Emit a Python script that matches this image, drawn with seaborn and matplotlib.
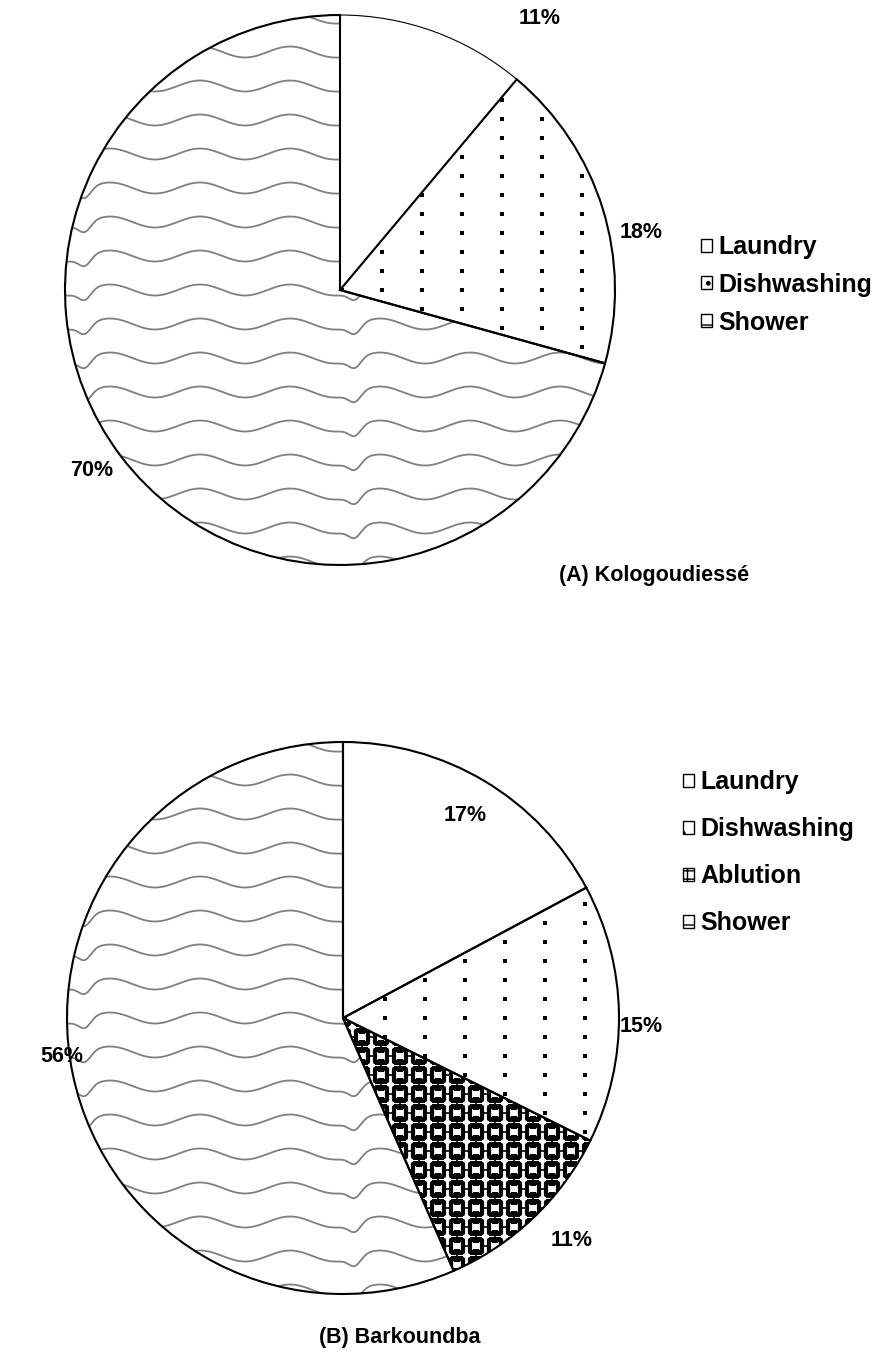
import numpy as np
import matplotlib
matplotlib.use("Agg")
import matplotlib.pyplot as plt
import seaborn as sns
from matplotlib.patches import Patch

# ---------------- data ----------------
cats_a = ["Laundry", "Dishwashing", "Shower"]
vals_a = [11, 18, 70]
labels_a = ["11%", "18%", "70%"]
cats_b = ["Laundry", "Dishwashing", "Ablution", "Shower"]
vals_b = [17, 15, 11, 56]
labels_b = ["17%", "15%", "11%", "56%"]
title_a = "(A) Kologoudiessé"
title_b = "(B) Barkoundba"

sns.set_theme(style="white")
plt.rcParams['font.family'] = ['Liberation Sans', 'DejaVu Sans']
plt.rcParams['text.color'] = 'black'

W, H = 877, 1355
fig = plt.figure(figsize=(W / 100, H / 100), dpi=100)
PAD = 1.03

kinds = {"Laundry": "plain", "Dishwashing": "dots", "Ablution": "grid", "Shower": "wave"}


def make_axes(cx, cy, r):
    h = r * PAD
    ax = fig.add_axes([(cx - h) / W, 1 - (cy + h) / H, 2 * h / W, 2 * h / H])
    return ax


def wave_offset(xp):
    base = 5.5 * np.cos(2 * np.pi * (xp - 155) / 90.0)
    ph = np.mod(xp - 355, 270.0)
    ph = np.where(ph > 135, ph - 270, ph)
    dip = 9.0 * np.exp(-0.5 * (ph / 6.0) ** 2)
    return base + dip


def add_pattern(ax, wedge, kind, cx, cy, r):
    if kind == "dots":
        xs = np.arange(-8, 9) * 40.0 / r + 2.0 / r
        ys = np.arange(-16, 17) * 19.0 / r
        X, Y = np.meshgrid(xs, ys)
        sc = ax.scatter(X.ravel(), Y.ravel(), s=5, marker='s', color='black',
                        linewidths=0, zorder=2)
        sc.set_clip_path(wedge)
    elif kind == "grid":
        xs = np.arange(-16, 17) * 19.0 / r
        ys = np.arange(-16, 17) * 19.0 / r
        X, Y = np.meshgrid(xs, ys)
        for v in xs:
            l1, = ax.plot([v, v], [-1.1, 1.1], color='black', lw=1.2, zorder=1.9)
            l1.set_clip_path(wedge)
            l2, = ax.plot([-1.1, 1.1], [v, v], color='black', lw=1.2, zorder=1.9)
            l2.set_clip_path(wedge)
        sc = ax.scatter(X.ravel(), Y.ravel(), s=78, marker='s', facecolor='white',
                        edgecolor='black', linewidths=3.0, zorder=2)
        sc.set_clip_path(wedge)
    elif kind == "wave":
        x = np.linspace(-1.05, 1.05, 900)
        xp = cx + x * r
        off = wave_offset(xp) / r
        for k in range(-9, 10):
            y0 = k * 34.0 / r
            ln, = ax.plot(x, y0 - off, color='#7f7f7f', lw=1.3, zorder=2)
            ln.set_clip_path(wedge)


def draw_pie(cats, vals, cx, cy, r, thin_first=False):
    ax = make_axes(cx, cy, r)
    wedges, _ = ax.pie(vals, startangle=90, counterclock=False,
                       colors=['white'] * len(vals),
                       wedgeprops=dict(edgecolor='none', linewidth=0))
    for w in wedges:
        w.set_zorder(1)
    for w, c in zip(wedges, cats):
        add_pattern(ax, w, kinds[c], cx, cy, r)
    outl, _ = ax.pie(vals, startangle=90, counterclock=False,
                     wedgeprops=dict(fill=False, edgecolor='black', linewidth=1.5))
    for i, w in enumerate(outl):
        w.set_zorder(3)
        if thin_first and i == 0:
            w.set_linewidth(0.8)
    ax.set_xlim(-PAD, PAD)
    ax.set_ylim(-PAD, PAD)
    ax.set_aspect('auto')
    ax.axis('off')
    return ax


draw_pie(cats_a, vals_a, 340, 290, 275, thin_first=True)
draw_pie(cats_b, vals_b, 343, 1018, 276)

lab_font = dict(fontsize=15.5, fontweight='bold', ha='center', va='center', color='black')
pos_a = [(540, 19), (641, 233), (92, 470)]
for t, (px, py) in zip(labels_a, pos_a):
    fig.text(px / W, 1 - py / H, t, **lab_font)
pos_b = [(465, 816), (641, 1026), (572, 1240), (62, 1056)]
for t, (px, py) in zip(labels_b, pos_b):
    fig.text(px / W, 1 - py / H, t, **lab_font)

fig.text(654 / W, 1 - 576 / H, title_a, fontsize=15.5, fontweight='bold',
         ha='center', va='center', color='black')
fig.text(400 / W, 1 - 1338 / H, title_b, fontsize=15.5, fontweight='bold',
         ha='center', va='center', color='black')

hstyle = {"Laundry": dict(hatch=None),
          "Dishwashing": dict(hatch='.'),
          "Ablution": dict(hatch='++'),
          "Shower": dict(hatch='-')}


def legend(cats, x, y, spacing):
    handles = [Patch(facecolor='white', edgecolor='black', linewidth=1.0, **hstyle[c])
               for c in cats]
    leg = fig.legend(handles, cats, loc='upper left', bbox_to_anchor=(x / W, 1 - y / H),
                     frameon=False, prop=dict(weight='bold', size=18),
                     handlelength=0.42, handleheight=0.42, handletextpad=0.28,
                     labelspacing=spacing, borderpad=0, borderaxespad=0)
    for t in leg.get_texts():
        t.set_color('black')


legend(cats_a, 701, 235, 0.55)
legend(cats_b, 683, 770, 0.92)

fig.savefig("out.png", dpi=100, facecolor='white')
